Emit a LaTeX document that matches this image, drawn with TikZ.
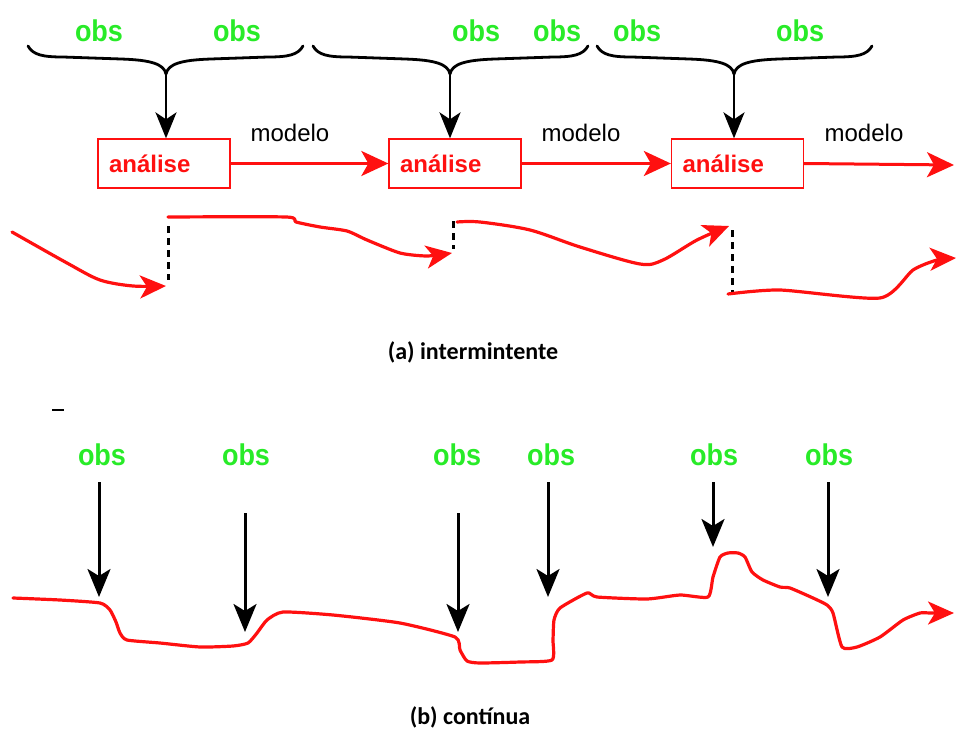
\documentclass[tikz,border=0pt]{standalone}
\usepackage{fontspec}
\setmainfont{Liberation Sans}
\newfontfamily\capfont{Carlito}
\newfontfamily\obsfont[FakeStretch=0.9]{Liberation Sans Bold}
\usetikzlibrary{arrows.meta}
\definecolor{obsgreen}{RGB}{40,235,40}
\definecolor{flowred}{RGB}{255,16,16}
\tikzset{
  obs/.style={text=obsgreen, font=\obsfont\fontsize{30}{32}\selectfont, inner sep=0pt},
  anabox/.style={draw=flowred, line width=1.3pt, minimum height=49pt, text width=110pt,
    inner xsep=11pt, inner ysep=0pt, align=left, text=flowred,
    font=\bfseries\fontsize{24}{26}\selectfont},
  modlabel/.style={font=\fontsize{24}{26}\selectfont, inner sep=0pt},
  caption/.style={font=\capfont\bfseries\fontsize{24}{28}\selectfont, inner sep=0pt},
  brace/.style={draw=black, line width=2.8pt, line cap=round, line join=round},
  stemarrow/.style={draw=black, line width=2.6pt, -{Stealth[length=26pt, width=21pt, inset=7pt]}},
  obsarrow/.style={draw=black, line width=3pt, -{Stealth[length=28pt, width=23pt, inset=7pt]}},
  flowarrow/.style={draw=flowred, line width=3pt, -{Stealth[length=27pt, width=25pt, inset=7pt]}},
  stateline/.style={draw=flowred, line width=3.2pt, line join=round, line cap=round},
  statearrow/.style={stateline, -{Stealth[length=26pt, width=23pt, inset=7pt]}},
  jump/.style={draw=black, line width=3pt, dash pattern=on 7pt off 5pt},
}
% curly brace gathering observations: left x, tip x, right x
\newcommand{\obsbrace}[3]{%
  \draw[brace] (#1,46) .. controls ({#1+5},55) and ({#1+15},57) .. ({#1+35},57)
    -- ({#2-45},59) .. controls ({#2-15},60) and ({#2-2},64) .. (#2,74)
    .. controls ({#2+2},64) and ({#2+15},60) .. ({#2+45},59)
    -- ({#3-35},57) .. controls ({#3-15},57) and ({#3-5},55) .. (#3,46);
}
\begin{document}
\begin{tikzpicture}[x=1pt,y=-1pt]
\useasboundingbox (0,0) rectangle (957,738);

% ---------- (a) intermittent assimilation ----------
\node[obs] (o1) at (99,31) {obs};
\node[obs] (o2) at (237,31) {obs};
\node[obs] (o3) at (476,31) {obs};
\node[obs] (o4) at (557,31) {obs};
\node[obs] (o5) at (637,31) {obs};
\node[obs] (o6) at (800,31) {obs};

\obsbrace{28}{166}{303}
\obsbrace{313}{450}{588}
\obsbrace{597}{734}{872}
\coordinate (t1) at (166,72);
\coordinate (t2) at (450,72);
\coordinate (t3) at (734,72);

\node[anabox] (a1) at (164,163.5) {análise};
\node[anabox] (a2) at (455,163.5) {análise};
\node[anabox] (a3) at (737.5,163.5) {análise};

\draw[stemarrow] (t1) -- (t1 |- a1.north);
\draw[stemarrow] (t2) -- (t2 |- a2.north);
\draw[stemarrow] (t3) -- (t3 |- a3.north);

\node[modlabel] (m1) at (290,133) {modelo};
\node[modlabel] (m2) at (581,133) {modelo};
\node[modlabel] (m3) at (864,133) {modelo};

\coordinate (fend) at (954,165);
\draw[flowarrow] (a1.east) -- (a2.west);
\draw[flowarrow] (a2.east) -- (a3.west);
\draw[flowarrow] (a3.east) -- (fend);

% model state between analyses
\draw[statearrow] plot[smooth, tension=0.5] coordinates
  {(12,232) (67,263) (100,280) (133,286) (166,286)};
\draw[jump] (168,226) -- (168,280);
\draw[statearrow] plot[smooth, tension=0.4] coordinates
  {(168,217) (286,217) (296,222) (320,227) (347,231) (367,240) (400,253) (427,256) (452,253)};
\draw[jump] (453,221) -- (453,249);
\draw[statearrow] plot[smooth, tension=0.5] coordinates
  {(457,222) (480,222) (530,230) (580,247) (640,264) (663,260) (697,240) (729,226)};
\draw[jump] (732,230) -- (732,292);
\draw[statearrow] plot[smooth, tension=0.4] coordinates
  {(728,294) (780,290) (880,298) (913,270) (937,260) (956,258)};

\node[caption] (capa) at (473,352) {(a) intermintente};

% ---------- (b) continuous assimilation ----------
\draw[line width=1.5pt] (52,410) -- (64,410);

\node[obs] (b1) at (102,455) {obs};
\node[obs] (b2) at (246,455) {obs};
\node[obs] (b3) at (457,455) {obs};
\node[obs] (b4) at (551,455) {obs};
\node[obs] (b5) at (714,455) {obs};
\node[obs] (b6) at (829,455) {obs};

\coordinate (p1) at (99,597);
\coordinate (p2) at (245,632);
\coordinate (p3) at (458,632);
\coordinate (p4) at (548,597);
\coordinate (p5) at (713,547);
\coordinate (p6) at (828,597);
\draw[obsarrow] (p1 |- 0,482) -- (p1);
\draw[obsarrow] (p2 |- 0,513) -- (p2);
\draw[obsarrow] (p3 |- 0,513) -- (p3);
\draw[obsarrow] (p4 |- 0,482) -- (p4);
\draw[obsarrow] (p5 |- 0,482) -- (p5);
\draw[obsarrow] (p6 |- 0,482) -- (p6);

\draw[statearrow] plot[smooth, tension=0.35] coordinates
  {(13,598) (60,600) (100,603) (110,610) (116,622) (120,633) (127,640) (160,643) (200,647)
   (233,646) (248,643) (257,633) (267,620) (283,612) (333,615) (400,623) (455,637)
   (460,650) (467,661) (480,663) (520,662) (552,660) (553,640) (554,620) (560,608)
   (587,593) (597,597) (647,599) (680,595) (708,597) (713,577) (720,557) (728,553)
   (738,553) (745,557) (752,572) (763,580) (780,587) (790,588) (813,598) (827,605)
   (833,613) (842,647) (857,647) (880,637) (903,620) (920,613) (930,613) (954,613)};

\node[caption] (capb) at (470,717) {(b) contínua};
\end{tikzpicture}
\end{document}
